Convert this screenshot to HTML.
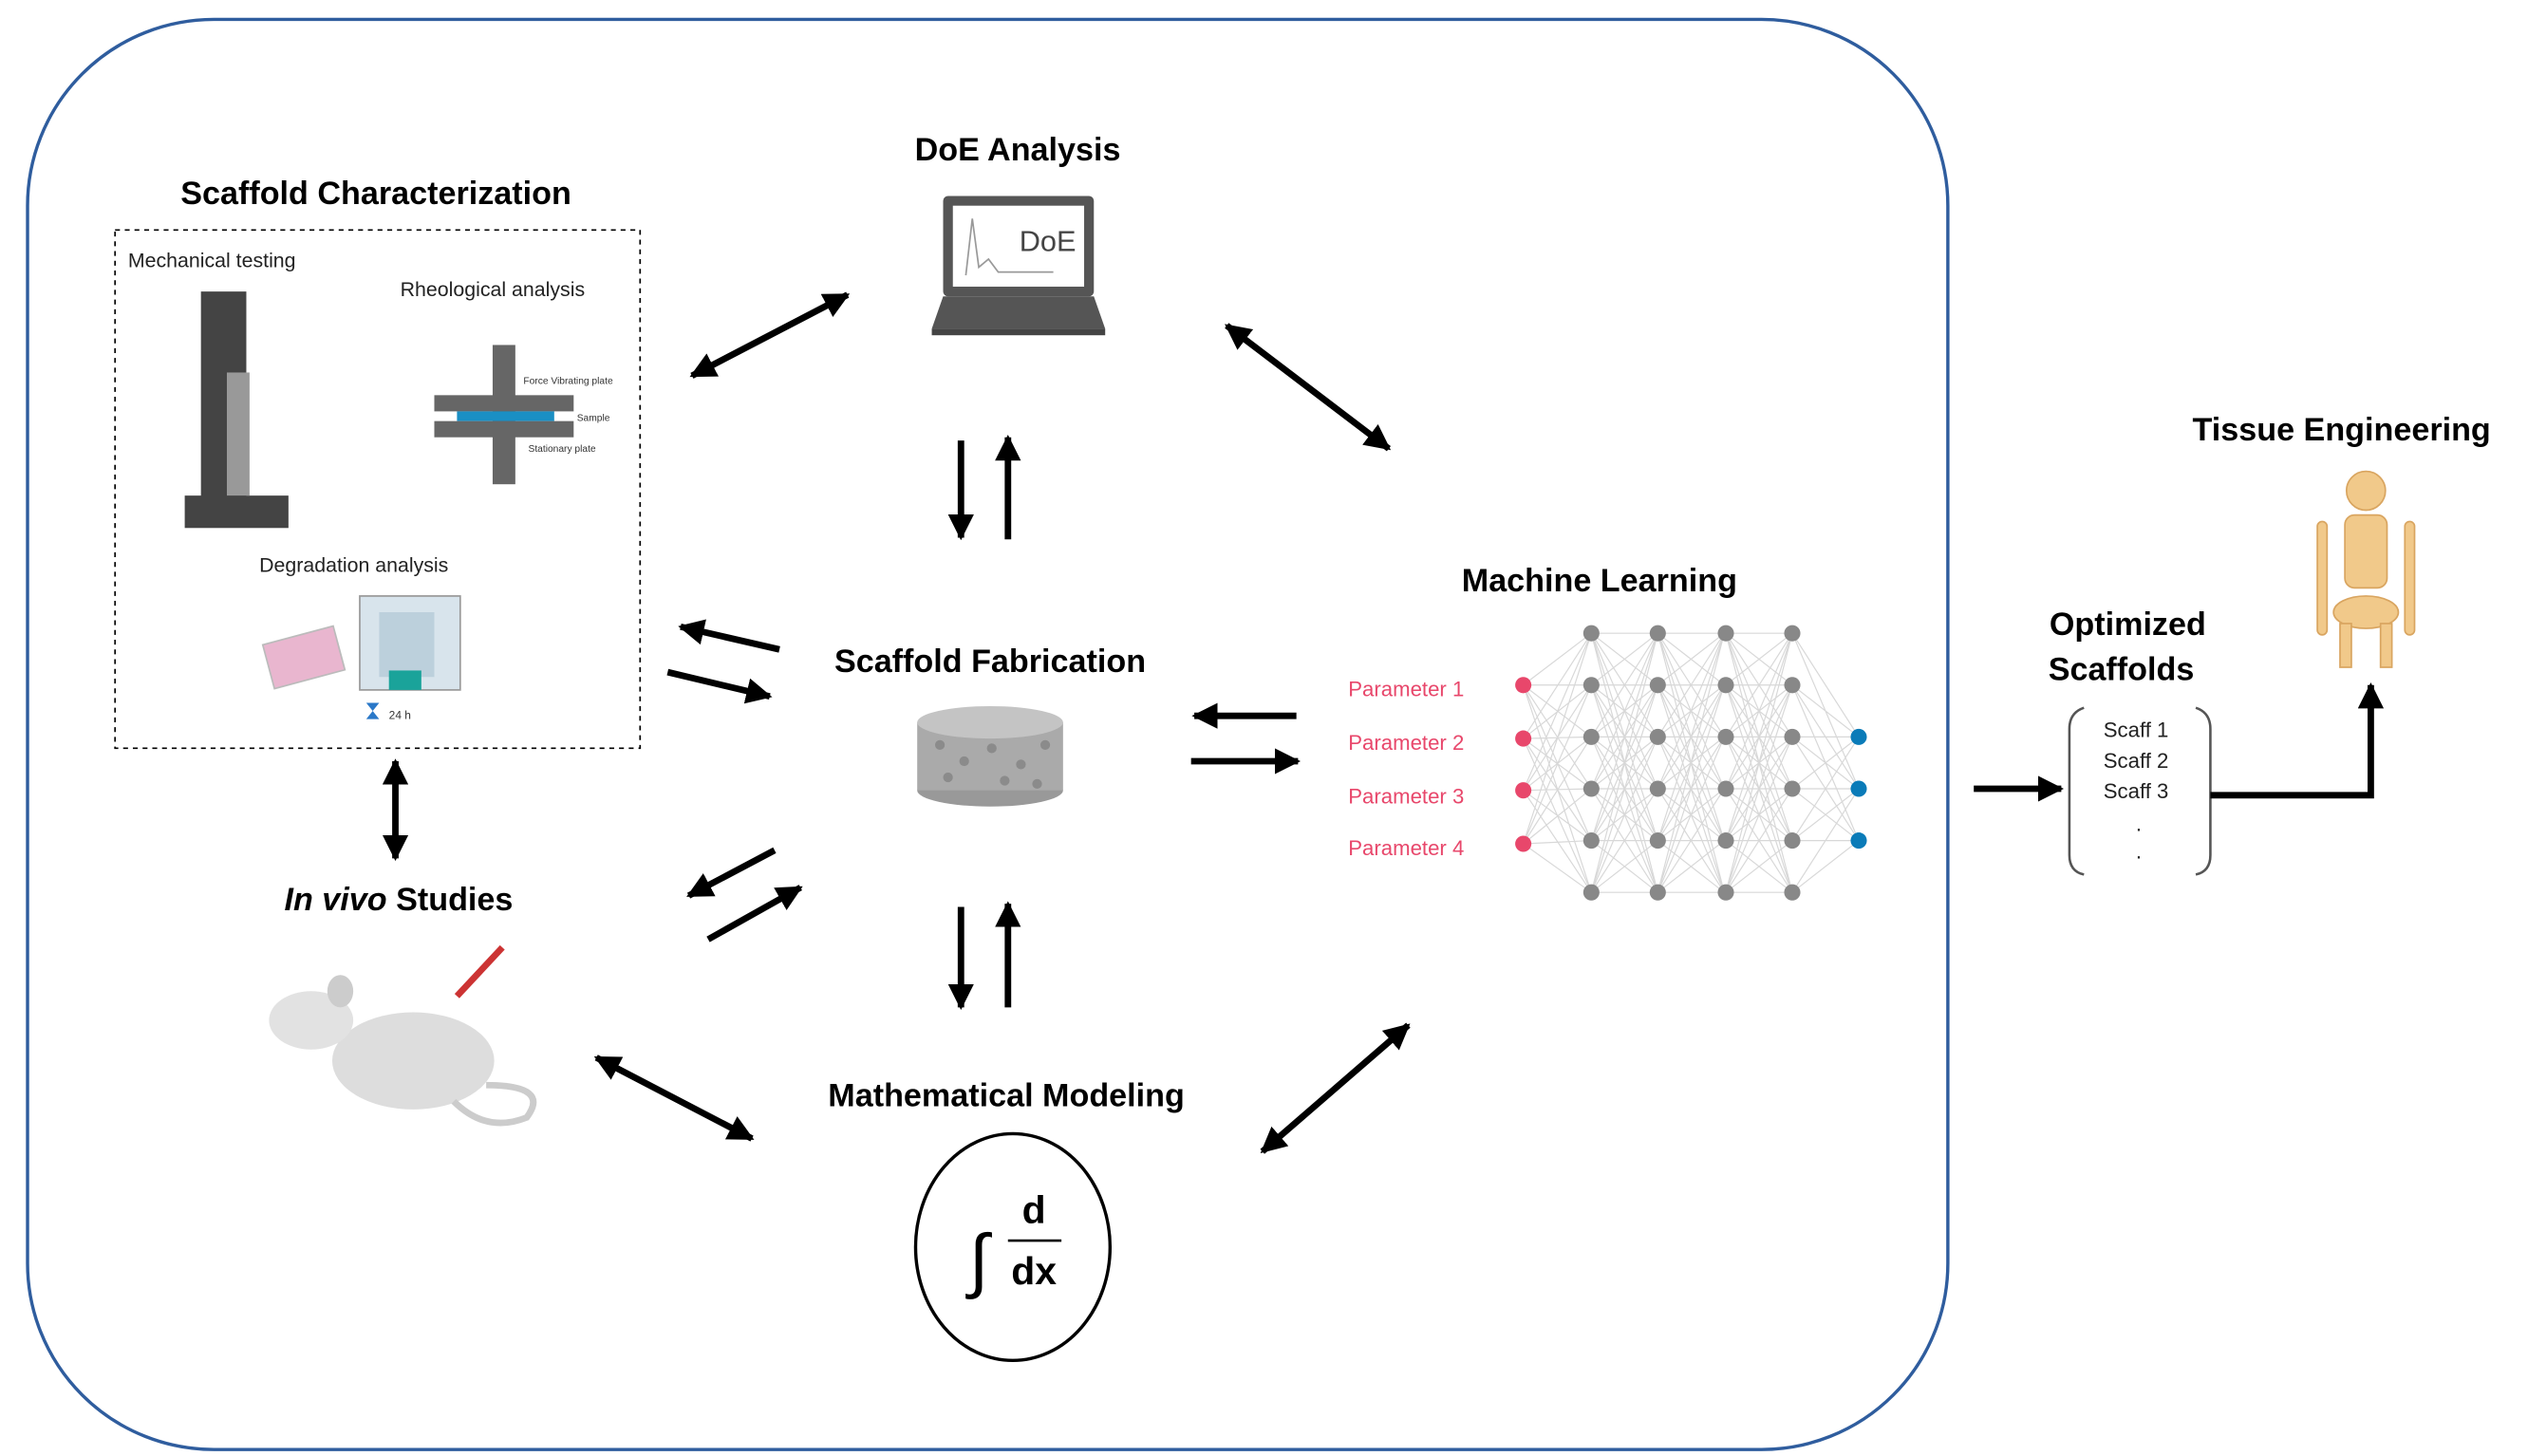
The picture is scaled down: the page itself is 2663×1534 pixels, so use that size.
<!DOCTYPE html>
<html><head><meta charset="utf-8"><style>html,body{margin:0;padding:0;background:#fff}svg{display:block}text{font-family:"Liberation Sans",sans-serif}</style></head><body>
<svg width="2663" height="1534" viewBox="0 0 1560 899" preserveAspectRatio="none" xmlns="http://www.w3.org/2000/svg">
<defs>
<marker id="a" viewBox="0 0 10 10" refX="9" refY="5" markerWidth="4" markerHeight="4" orient="auto-start-reverse"><path d="M0,0L10,5L0,10z" fill="#000"/></marker>
</defs>
<rect x="17" y="12" width="1185" height="883" rx="115" ry="115" fill="none" stroke="#2f5d9e" stroke-width="2"/>
<g font-weight="bold" font-size="20" text-anchor="middle" fill="#000">
<text x="232" y="126">Scaffold Characterization</text>
<text x="628" y="99">DoE Analysis</text>
<text x="611" y="415">Scaffold Fabrication</text>
<text x="987" y="365">Machine Learning</text>
<text x="246" y="562"><tspan font-style="italic">In vivo</tspan> Studies</text>
<text x="621" y="683">Mathematical Modeling</text>
<text x="1445" y="272">Tissue Engineering</text>
<text x="1313" y="392">Optimized</text>
<text x="1309" y="420">Scaffolds</text>
</g>
<rect x="71" y="142" width="324" height="320" fill="none" stroke="#000" stroke-dasharray="3,3" stroke-width="1"/>
<g font-size="12.5" fill="#222"><text x="79" y="165">Mechanical testing</text><text x="247" y="183">Rheological analysis</text><text x="160" y="353">Degradation analysis</text></g>
<rect x="124" y="180" width="28" height="130" fill="#444"/><rect x="114" y="306" width="64" height="20" fill="#444"/>
<rect x="140" y="230" width="14" height="76" fill="#999"/>
<rect x="304" y="213" width="14" height="86" fill="#666"/><rect x="268" y="244" width="86" height="10" fill="#666"/><rect x="282" y="254" width="60" height="6" fill="#1a8fc4"/><rect x="268" y="260" width="86" height="10" fill="#666"/>
<g font-size="6" fill="#333"><text x="323" y="237">Force Vibrating plate</text><text x="356" y="260">Sample</text><text x="326" y="279">Stationary plate</text></g>
<rect x="165" y="392" width="45" height="28" fill="#e9b6cf" stroke="#bbb" transform="rotate(-15 187 406)"/>
<rect x="222" y="368" width="62" height="58" fill="#d8e4ec" stroke="#999"/><rect x="234" y="378" width="34" height="40" fill="#bcd0dc"/><rect x="240" y="414" width="20" height="12" fill="#1aa39a"/>
<text x="240" y="444" font-size="7" fill="#333">24 h</text><path d="M226,434h8l-8,10h8z" fill="#2a78c8"/>
<rect x="582" y="121" width="93" height="62" rx="3" fill="#555"/><rect x="588" y="127" width="81" height="50" fill="#fff"/>
<text x="629" y="155" font-size="18" fill="#444">DoE</text><path d="M596,170 L600,135 L604,165 L610,160 L616,168 L650,168" fill="none" stroke="#999"/>
<path d="M582,183 L675,183 L682,203 L575,203z" fill="#555"/><rect x="575" y="203" width="107" height="4" fill="#444"/>
<ellipse cx="611" cy="488" rx="45" ry="10" fill="#999"/><rect x="566" y="446" width="90" height="42" fill="#aaa"/><ellipse cx="611" cy="446" rx="45" ry="10" fill="#c4c4c4"/>
<g fill="#777" opacity="0.6"><circle cx="580" cy="460" r="3"/><circle cx="595" cy="470" r="3"/><circle cx="612" cy="462" r="3"/><circle cx="630" cy="472" r="3"/><circle cx="645" cy="460" r="3"/><circle cx="585" cy="480" r="3"/><circle cx="620" cy="482" r="3"/><circle cx="640" cy="484" r="3"/></g>
<!-- NN lines -->
<g stroke="#d8d8d8" stroke-width="0.7" fill="none">
<path d="M940 423L982 391M940 423L982 423M940 423L982 455M940 423L982 487M940 423L982 519M940 423L982 551M940 456L982 391M940 456L982 423M940 456L982 455M940 456L982 487M940 456L982 519M940 456L982 551M940 488L982 391M940 488L982 423M940 488L982 455M940 488L982 487M940 488L982 519M940 488L982 551M940 521L982 391M940 521L982 423M940 521L982 455M940 521L982 487M940 521L982 519M940 521L982 551"/>
<path id="blk" d="M0 391L41 391M0 391L41 423M0 391L41 455M0 391L41 487M0 391L41 519M0 391L41 551M0 423L41 391M0 423L41 423M0 423L41 455M0 423L41 487M0 423L41 519M0 423L41 551M0 455L41 391M0 455L41 423M0 455L41 455M0 455L41 487M0 455L41 519M0 455L41 551M0 487L41 391M0 487L41 423M0 487L41 455M0 487L41 487M0 487L41 519M0 487L41 551M0 519L41 391M0 519L41 423M0 519L41 455M0 519L41 487M0 519L41 519M0 519L41 551M0 551L41 391M0 551L41 423M0 551L41 455M0 551L41 487M0 551L41 519M0 551L41 551" transform="translate(982 0)"/>
<use href="#blk" x="41"/><use href="#blk" x="83"/>
<path d="M1106 391L1147 455M1106 391L1147 487M1106 423L1147 455M1106 423L1147 487M1106 423L1147 519M1106 455L1147 455M1106 455L1147 487M1106 455L1147 519M1106 487L1147 455M1106 487L1147 487M1106 487L1147 519M1106 519L1147 455M1106 519L1147 487M1106 519L1147 519M1106 551L1147 487M1106 551L1147 519"/>
</g>
<g fill="#e8476b"><circle cx="940" cy="423" r="5"/><circle cx="940" cy="456" r="5"/><circle cx="940" cy="488" r="5"/><circle cx="940" cy="521" r="5"/></g>
<g fill="#888" id="col"><circle cx="982" cy="391" r="5"/><circle cx="982" cy="423" r="5"/><circle cx="982" cy="455" r="5"/><circle cx="982" cy="487" r="5"/><circle cx="982" cy="519" r="5"/><circle cx="982" cy="551" r="5"/></g>
<use href="#col" x="41"/><use href="#col" x="83"/><use href="#col" x="124"/>
<g fill="#0a7bb8"><circle cx="1147" cy="455" r="5"/><circle cx="1147" cy="487" r="5"/><circle cx="1147" cy="519" r="5"/></g>
<g font-size="13" fill="#e8476b"><text x="832" y="430">Parameter 1</text><text x="832" y="463">Parameter 2</text><text x="832" y="496">Parameter 3</text><text x="832" y="528">Parameter 4</text></g>
<ellipse cx="625" cy="770" rx="60" ry="70" fill="#fff" stroke="#000" stroke-width="2"/>
<text x="598" y="793" font-family="Liberation Serif" font-size="44">∫</text>
<text x="638" y="755" font-family="Liberation Serif" font-size="24" font-weight="bold" text-anchor="middle">d</text>
<line x1="622" y1="766" x2="655" y2="766" stroke="#000" stroke-width="1.5"/>
<text x="638" y="793" font-family="Liberation Serif" font-size="24" font-weight="bold" text-anchor="middle">dx</text>
<ellipse cx="255" cy="655" rx="50" ry="30" fill="#ddd"/><ellipse cx="192" cy="630" rx="26" ry="18" fill="#e2e2e2"/><ellipse cx="210" cy="612" rx="8" ry="10" fill="#ccc"/>
<path d="M300,670 Q340,670 325,690 Q300,700 280,680" fill="none" stroke="#ccc" stroke-width="4"/>
<line x1="282" y1="615" x2="310" y2="585" stroke="#c33" stroke-width="4"/>
<g fill="#f1c98a" stroke="#d9a560" stroke-width="1"><circle cx="1460" cy="303" r="12"/><rect x="1447" y="318" width="26" height="45" rx="6"/><rect x="1430" y="322" width="6" height="70" rx="3"/><rect x="1484" y="322" width="6" height="70" rx="3"/><ellipse cx="1460" cy="378" rx="20" ry="10"/><rect x="1444" y="385" width="7" height="27"/><rect x="1469" y="385" width="7" height="27"/></g>
<path d="M1286,437 Q1277,440 1277,450 V528 Q1277,538 1286,540" fill="none" stroke="#555" stroke-width="1.5"/>
<path d="M1355,437 Q1364,440 1364,450 V528 Q1364,538 1355,540" fill="none" stroke="#555" stroke-width="1.5"/>
<g font-size="13" fill="#222"><text x="1298" y="455">Scaff 1</text><text x="1298" y="474">Scaff 2</text><text x="1298" y="493">Scaff 3</text><text x="1318" y="513">.</text><text x="1318" y="530">.</text></g>
<g stroke="#000" stroke-width="4" fill="none" marker-end="url(#a)">
<line x1="1218" y1="487" x2="1272" y2="487"/>
<polyline points="1364,491 1463,491 1463,423"/>
<line x1="593" y1="272" x2="593" y2="332"/><line x1="622" y1="333" x2="622" y2="270"/>
<line x1="593" y1="560" x2="593" y2="622"/><line x1="622" y1="622" x2="622" y2="558"/>
<line x1="481" y1="401" x2="420" y2="387"/><line x1="412" y1="415" x2="475" y2="430"/>
<line x1="800" y1="442" x2="737" y2="442"/><line x1="735" y1="470" x2="801" y2="470"/>
<line x1="478" y1="525" x2="425" y2="553"/><line x1="437" y1="580" x2="494" y2="548"/>
</g>
<g stroke="#000" stroke-width="4" fill="none" marker-start="url(#a)" marker-end="url(#a)">
<line x1="427" y1="232" x2="523" y2="182"/><line x1="757" y1="201" x2="857" y2="277"/>
<line x1="244" y1="470" x2="244" y2="530"/><line x1="368" y1="653" x2="464" y2="703"/>
<line x1="779" y1="711" x2="869" y2="633"/>
</g>
</svg>
</body></html>
